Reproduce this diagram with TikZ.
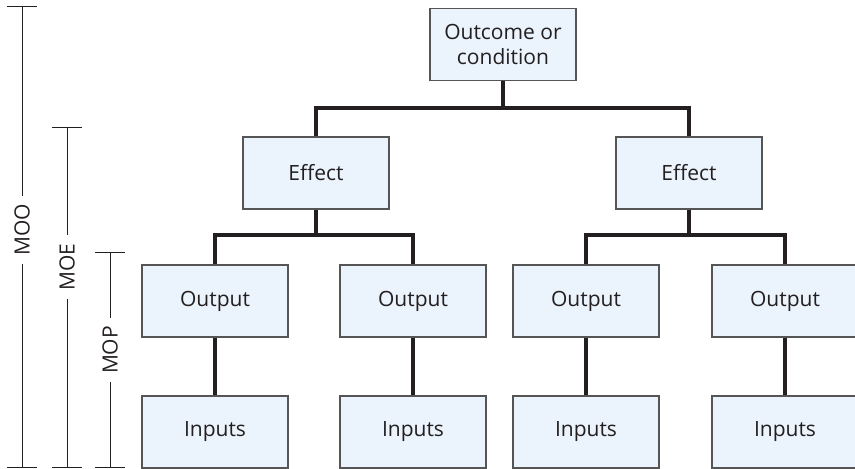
\documentclass[tikz,border=0pt]{standalone}
\usepackage{fontspec}
\setmainfont{Open Sans}
\definecolor{boxfill}{HTML}{EBF3FC}
\definecolor{boxline}{HTML}{555555}
\definecolor{inkgray}{HTML}{231F20}
\tikzset{
  levelbox/.style={draw=boxline, line width=0.7pt, fill=boxfill, text=inkgray,
    minimum width=73pt, minimum height=36pt, inner sep=0pt, align=center,
    font=\fontsize{10.5}{12.5}\selectfont},
  conn/.style={line width=2pt, draw=inkgray},
  scalebar/.style={line width=0.5pt, draw=inkgray},
  scalelabel/.style={rotate=90, text=inkgray, inner sep=4pt,
    font=\fontsize{10.5}{12.5}\selectfont}
}
\begin{document}
\begin{tikzpicture}[x=0.5pt, y=-0.5pt]
    \useasboundingbox (0,0) rectangle (855,469);

    % --- LEVELS (BOXES) ---
    \node[levelbox] (top) at (503,44.5) {Outcome or\\condition};

    \node[levelbox] (effL) at (316,173) {Effect};
    \node[levelbox] (effR) at (689,173) {Effect};

    \foreach \x [count=\i] in {215,413,586,785} {
        \node[levelbox] (out\i) at (\x,301) {Output};
        \node[levelbox] (in\i)  at (\x,432) {Inputs};
    }

    % --- BRANCH POINTS ---
    \coordinate (bar0) at (503,108);
    \coordinate (barL) at (316,235);
    \coordinate (barR) at (689,235);

    % --- CONNECTORS ---
    \draw[conn] (top.south) -- (bar0);
    \draw[conn] (effL.north) |- (bar0) -| (effR.north);

    \draw[conn] (effL.south) -- (barL);
    \draw[conn] (out1.north) |- (barL) -| (out2.north);
    \draw[conn] (effR.south) -- (barR);
    \draw[conn] (out3.north) |- (barR) -| (out4.north);

    \foreach \i in {1,...,4}
        \draw[conn] (out\i) -- (in\i);

    % --- MEASURE SCALES ON THE LEFT ---
    \coordinate (mooT) at (22,7);   \coordinate (mooB) at (22,467);
    \coordinate (moeT) at (67,128); \coordinate (moeB) at (67,467);
    \coordinate (mopT) at (110,253);\coordinate (mopB) at (110,467);

    \node[scalelabel] (moo) at (22,230) {MOO};
    \node[scalelabel] (moe) at (67,267) {MOE};
    \node[scalelabel] (mop) at (110,350) {MOP};

    \draw[scalebar] (mooT) -- (moo) -- (mooB);
    \draw[scalebar] (moeT) -- (moe) -- (moeB);
    \draw[scalebar] (mopT) -- (mop) -- (mopB);

    % ticks
    \foreach \n in {mooT,mooB,moeT,moeB,mopT,mopB}
        \draw[scalebar] ([xshift=-7.5pt]\n) -- ([xshift=7.5pt]\n);

\end{tikzpicture}
\end{document}
